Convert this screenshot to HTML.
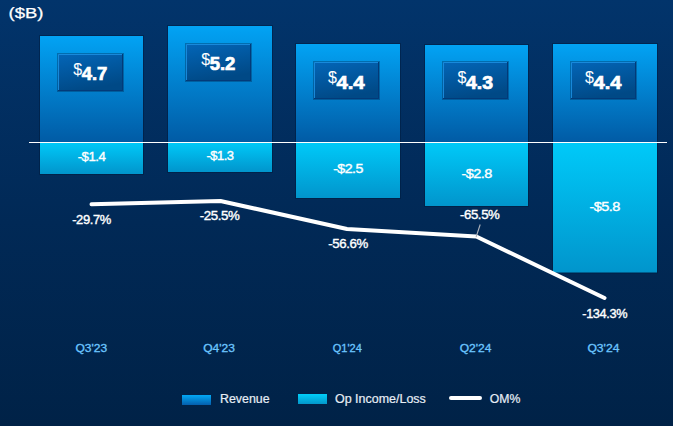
<!DOCTYPE html>
<html><head><meta charset="utf-8">
<style>
html,body{margin:0;padding:0;width:673px;height:426px;overflow:hidden;background:#05306a;}
svg{display:block;}
text{font-family:"Liberation Sans",Arial,sans-serif;}
</style></head>
<body>
<svg width="673" height="426" viewBox="0 0 673 426">
<defs>
<linearGradient id="bg" x1="0" y1="0" x2="0" y2="1">
<stop offset="0" stop-color="#02346b"/>
<stop offset="0.52" stop-color="#012956"/>
<stop offset="1" stop-color="#002247"/>
</linearGradient>
<linearGradient id="rev" x1="0" y1="0" x2="0" y2="1">
<stop offset="0" stop-color="#02a3f4"/>
<stop offset="1" stop-color="#015ba5"/>
</linearGradient>
<linearGradient id="op" x1="0" y1="0" x2="0" y2="1">
<stop offset="0" stop-color="#00caf9"/>
<stop offset="1" stop-color="#0195cc"/>
</linearGradient>
<linearGradient id="box" x1="0" y1="0" x2="0.3" y2="1">
<stop offset="0" stop-color="#0366b8"/>
<stop offset="1" stop-color="#004986"/>
</linearGradient>
<linearGradient id="lrev" x1="0" y1="0" x2="0" y2="1">
<stop offset="0" stop-color="#02a8f5"/>
<stop offset="1" stop-color="#045eac"/>
</linearGradient>
<linearGradient id="lop" x1="0" y1="0" x2="0" y2="1">
<stop offset="0" stop-color="#00cefa"/>
<stop offset="1" stop-color="#0397ca"/>
</linearGradient>
<filter id="bl" x="-20%" y="-20%" width="140%" height="140%"><feGaussianBlur stdDeviation="0.7"/></filter>
</defs>
<rect x="0" y="0" width="673" height="426" fill="url(#bg)"/>

<rect x="39.5" y="35.5" width="104" height="139" fill="none" stroke="#001838" stroke-opacity="0.45" stroke-width="1"/>
<rect x="40" y="36" width="103" height="106" fill="url(#rev)"/>
<rect x="167.5" y="25.5" width="105" height="147" fill="none" stroke="#001838" stroke-opacity="0.45" stroke-width="1"/>
<rect x="168" y="26" width="104" height="116" fill="url(#rev)"/>
<rect x="295.5" y="43.5" width="105" height="155" fill="none" stroke="#001838" stroke-opacity="0.45" stroke-width="1"/>
<rect x="296" y="44" width="104" height="98" fill="url(#rev)"/>
<rect x="424.5" y="44.5" width="104" height="162" fill="none" stroke="#001838" stroke-opacity="0.45" stroke-width="1"/>
<rect x="425" y="45" width="103" height="97" fill="url(#rev)"/>
<rect x="552.5" y="43.5" width="105" height="229.5" fill="none" stroke="#001838" stroke-opacity="0.45" stroke-width="1"/>
<rect x="553" y="44" width="104" height="98" fill="url(#rev)"/>
<rect x="40" y="142" width="103" height="32" fill="url(#op)"/>
<rect x="168" y="142" width="104" height="30" fill="url(#op)"/>
<rect x="296" y="142" width="104" height="56" fill="url(#op)"/>
<rect x="425" y="142" width="103" height="64" fill="url(#op)"/>
<rect x="553" y="142" width="104" height="130.5" fill="url(#op)"/>
<rect x="29" y="142" width="638" height="1" fill="#ffffff"/>
<rect x="57" y="53" width="67" height="39" fill="#01224a" opacity="0.35" filter="url(#bl)"/>
<rect x="58" y="54" width="65" height="37" fill="url(#box)"/>
<path d="M58.5 90V54.5H122" fill="none" stroke="#1b8ee0" stroke-width="1" opacity="0.9"/>
<path d="M122.5 54V90.5H58" fill="none" stroke="#033a78" stroke-width="1" opacity="1.0"/>
<text x="73.2" y="74.5" font-size="16" fill="#fff" stroke="#fff" stroke-width="0.05">$</text>
<text x="81.7" y="79.7" font-size="18" font-weight="bold" fill="#fff" stroke="#fff" stroke-width="0.7" textLength="25.7" lengthAdjust="spacingAndGlyphs">4.7</text>
<rect x="185" y="43" width="67" height="39" fill="#01224a" opacity="0.35" filter="url(#bl)"/>
<rect x="186" y="44" width="65" height="37" fill="url(#box)"/>
<path d="M186.5 80V44.5H250" fill="none" stroke="#1b8ee0" stroke-width="1" opacity="0.9"/>
<path d="M250.5 44V80.5H186" fill="none" stroke="#033a78" stroke-width="1" opacity="1.0"/>
<text x="201.2" y="64.5" font-size="16" fill="#fff" stroke="#fff" stroke-width="0.05">$</text>
<text x="209.7" y="70" font-size="18" font-weight="bold" fill="#fff" stroke="#fff" stroke-width="0.7" textLength="25.7" lengthAdjust="spacingAndGlyphs">5.2</text>
<rect x="313" y="61" width="67" height="39" fill="#01224a" opacity="0.35" filter="url(#bl)"/>
<rect x="314" y="62" width="65" height="37" fill="url(#box)"/>
<path d="M314.5 98V62.5H378" fill="none" stroke="#1b8ee0" stroke-width="1" opacity="0.9"/>
<path d="M378.5 62V98.5H314" fill="none" stroke="#033a78" stroke-width="1" opacity="1.0"/>
<text x="327.9" y="82.5" font-size="16" fill="#fff" stroke="#fff" stroke-width="0.05">$</text>
<text x="336.4" y="89" font-size="18" font-weight="bold" fill="#fff" stroke="#fff" stroke-width="0.7" textLength="28.3" lengthAdjust="spacingAndGlyphs">4.4</text>
<rect x="442" y="61" width="67" height="39" fill="#01224a" opacity="0.35" filter="url(#bl)"/>
<rect x="443" y="62" width="65" height="37" fill="url(#box)"/>
<path d="M443.5 98V62.5H507" fill="none" stroke="#1b8ee0" stroke-width="1" opacity="0.9"/>
<path d="M507.5 62V98.5H443" fill="none" stroke="#033a78" stroke-width="1" opacity="1.0"/>
<text x="457.5" y="82.5" font-size="16" fill="#fff" stroke="#fff" stroke-width="0.05">$</text>
<text x="466.0" y="89" font-size="18" font-weight="bold" fill="#fff" stroke="#fff" stroke-width="0.7" textLength="27.0" lengthAdjust="spacingAndGlyphs">4.3</text>
<rect x="570" y="61" width="67" height="39" fill="#01224a" opacity="0.35" filter="url(#bl)"/>
<rect x="571" y="62" width="65" height="37" fill="url(#box)"/>
<path d="M571.5 98V62.5H635" fill="none" stroke="#1b8ee0" stroke-width="1" opacity="0.9"/>
<path d="M635.5 62V98.5H571" fill="none" stroke="#033a78" stroke-width="1" opacity="1.0"/>
<text x="584.9" y="82.6" font-size="16" fill="#fff" stroke="#fff" stroke-width="0.05">$</text>
<text x="593.6" y="88.7" font-size="18" font-weight="bold" fill="#fff" stroke="#fff" stroke-width="0.7" textLength="27.9" lengthAdjust="spacingAndGlyphs">4.4</text>
<g fill="#ffffff" font-size="13.5" text-anchor="middle" letter-spacing="-0.5" stroke="#fff" stroke-width="0.4">
<text x="91.5" y="161.2" textLength="27.7" lengthAdjust="spacingAndGlyphs">-$1.4</text>
<text x="220" y="160.29999999999998" textLength="27.1" lengthAdjust="spacingAndGlyphs">-$1.3</text>
<text x="348" y="173.29999999999998" textLength="29.7" lengthAdjust="spacingAndGlyphs">-$2.5</text>
<text x="476.7" y="177.5" textLength="30.4" lengthAdjust="spacingAndGlyphs">-$2.8</text>
<text x="604.7" y="211.2" textLength="30.4" lengthAdjust="spacingAndGlyphs">-$5.8</text>
</g>
<polyline points="91.5,204.3 220.5,201 347,229 476.3,236.5 604.5,298" fill="none" stroke="#ffffff" stroke-width="4.0" stroke-linejoin="round" stroke-linecap="round"/>
<line x1="476.1" y1="237" x2="480.2" y2="224.5" stroke="#b0b4bc" stroke-width="1.1"/>
<g fill="#ffffff" font-size="13.5" text-anchor="middle" letter-spacing="-0.4" stroke="#fff" stroke-width="0.4">
<text x="91.5" y="224.2" textLength="38.699999999999996" lengthAdjust="spacingAndGlyphs">-29.7%</text>
<text x="219.5" y="220.1" textLength="39.699999999999996" lengthAdjust="spacingAndGlyphs">-25.5%</text>
<text x="348" y="248.39999999999998" textLength="39.599999999999994" lengthAdjust="spacingAndGlyphs">-56.6%</text>
<text x="479.7" y="219.2" textLength="39.599999999999994" lengthAdjust="spacingAndGlyphs">-65.5%</text>
<text x="604.7" y="318.4" textLength="44.8" lengthAdjust="spacingAndGlyphs">-134.3%</text>
</g>
<g fill="#6cc6ff" font-size="11" text-anchor="middle" stroke="#6cc6ff" stroke-width="0.3">
<text x="91.35" y="351.5" textLength="31.7" lengthAdjust="spacingAndGlyphs">Q3'23</text>
<text x="219" y="351.5" textLength="31.7" lengthAdjust="spacingAndGlyphs">Q4'23</text>
<text x="347.3" y="351.5" textLength="29.0" lengthAdjust="spacingAndGlyphs">Q1'24</text>
<text x="475.5" y="351.5" textLength="31.7" lengthAdjust="spacingAndGlyphs">Q2'24</text>
<text x="603.4" y="351.5" textLength="32.0" lengthAdjust="spacingAndGlyphs">Q3'24</text>
</g>
<text x="8.5" y="18.1" fill="#ffffff" font-size="14" stroke="#fff" stroke-width="0.25" textLength="35" lengthAdjust="spacingAndGlyphs">($B)</text>
<rect x="182" y="395" width="29" height="10" fill="url(#lrev)"/>
<text x="220" y="402.8" fill="#e6edf5" font-size="12" textLength="49.6" lengthAdjust="spacingAndGlyphs" stroke="#e6edf5" stroke-width="0.2">Revenue</text>
<rect x="298" y="394" width="29" height="10" fill="url(#lop)"/>
<text x="335" y="402.8" fill="#e6edf5" font-size="12" textLength="90.8" lengthAdjust="spacingAndGlyphs" stroke="#e6edf5" stroke-width="0.2">Op Income/Loss</text>
<line x1="451" y1="398" x2="480" y2="398" stroke="#ffffff" stroke-width="4.0" stroke-linecap="round"/>
<text x="489.8" y="402.8" fill="#e6edf5" font-size="12" textLength="30.6" lengthAdjust="spacingAndGlyphs" stroke="#e6edf5" stroke-width="0.2">OM%</text>
</svg>
</body></html>
